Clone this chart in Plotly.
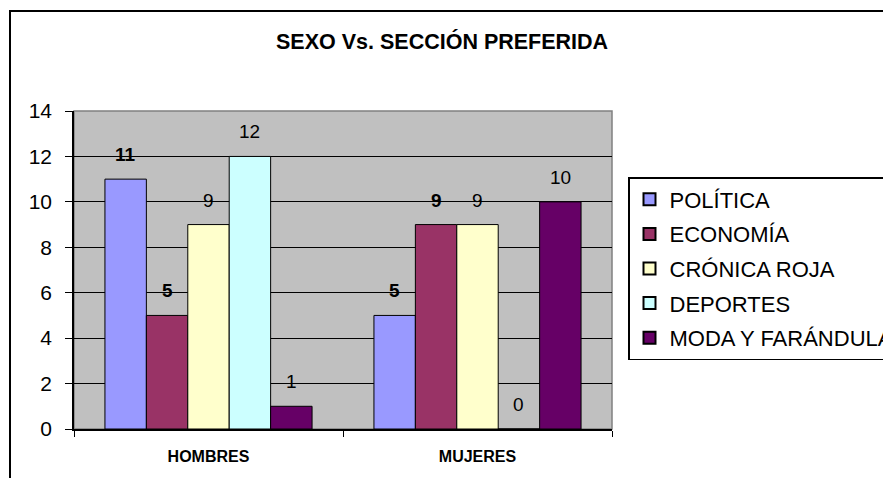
import plotly.graph_objects as go

categories = ["HOMBRES", "MUJERES"]
series_names = ["POLÍTICA", "ECONOMÍA", "CRÓNICA ROJA", "DEPORTES", "MODA Y FARÁNDULA"]
politica = [11, 5]
economia = [5, 9]
cronica_roja = [9, 9]
deportes = [12, 0]
moda = [1, 10]
y_ticks = [0, 2, 4, 6, 8, 10, 12, 14]

series_values = [politica, economia, cronica_roja, deportes, moda]
colors = ["#9999FF", "#993366", "#FFFFCC", "#CCFFFF", "#660066"]
bold_labels = [True, True, False, False, False]

OFF = 8  # default page body margin
W, H = 891 - OFF, 478 - OFF
L, T = 74 - OFF, 111 - OFF
R = W - (612 - OFF)
B = H - (429 - OFF)
bargap = 0.23
FONT = "Arial, Liberation Sans, sans-serif"

fig = go.Figure()
for i, (name, vals) in enumerate(zip(series_names, series_values)):
    fig.add_trace(go.Bar(
        x=categories, y=vals, name=name,
        marker=dict(color=colors[i], line=dict(color="black", width=1)),
        legendgroup=name,
    ))

# data labels
n = len(series_names)
w = (1 - bargap) / n
annotations = []
for i, vals in enumerate(series_values):
    for gi, v in enumerate(vals):
        txt = f"<b>{v}</b>" if bold_labels[i] else str(v)
        annotations.append(dict(
            x=gi + (i - (n - 1) / 2) * w, y=v, xref="x", yref="y",
            text=txt, showarrow=False, yanchor="bottom", yshift=12,
            font=dict(family=FONT, size=19, color="black"),
        ))

pw = W - L - R
ph = H - T - B

annotations.append(dict(
    text="<b>SEXO Vs. SECCIÓN PREFERIDA</b>", xref="paper", yref="paper",
    x=(442 - OFF - L) / pw, y=(H - B - (41 - OFF)) / ph, showarrow=False,
    xanchor="center", yanchor="middle",
    font=dict(family=FONT, size=21.5, color="black"),
))

shapes = [
    # plot area border (gray top/right)
    dict(type="rect", xref="paper", yref="paper", x0=0, x1=1, y0=0, y1=1,
         line=dict(color="#808080", width=1.5), layer="below"),
    # chart outer frame
    dict(type="rect", xref="paper", yref="paper",
         x0=(10 - OFF - L) / pw, x1=(W + 30 - L) / pw,
         y0=(H - B - (H + 30)) / ph, y1=(H - B - (11 - OFF)) / ph,
         line=dict(color="black", width=2), layer="above"),
]

fig.update_layout(
    width=W, height=H,
    margin=dict(l=L, r=R, t=T, b=B),
    paper_bgcolor="white", plot_bgcolor="#C0C0C0",
    barmode="group", bargap=bargap, bargroupgap=0,
    showlegend=True,
    legend=dict(
        xref="container", yref="container",
        x=(628 - OFF) / W, y=1 - (177 - OFF) / H, xanchor="left", yanchor="top",
        bgcolor="white", bordercolor="black", borderwidth=1.5,
        font=dict(family=FONT, size=22, color="black"),
        tracegroupgap=3, itemsizing="constant",
    ),
    annotations=annotations,
    shapes=shapes,
    font=dict(family=FONT, color="black"),
)
fig.update_xaxes(
    showgrid=False, showline=True, linecolor="black", linewidth=1.5,
    ticks="outside", tickson="boundaries", ticklen=6, tickcolor="black",
    ticklabelstandoff=12,
    tickfont=dict(family=FONT, size=16, color="black", weight="bold"),
)
fig.update_yaxes(
    range=[0, 14], tickvals=y_ticks, showgrid=True, gridcolor="black", gridwidth=1,
    showline=True, linecolor="black", linewidth=1.5,
    ticks="outside", ticklen=7, tickcolor="black",
    ticklabelstandoff=9,
    tickfont=dict(family=FONT, size=21, color="black"),
    zeroline=False,
)

fig.write_html("out.html")
